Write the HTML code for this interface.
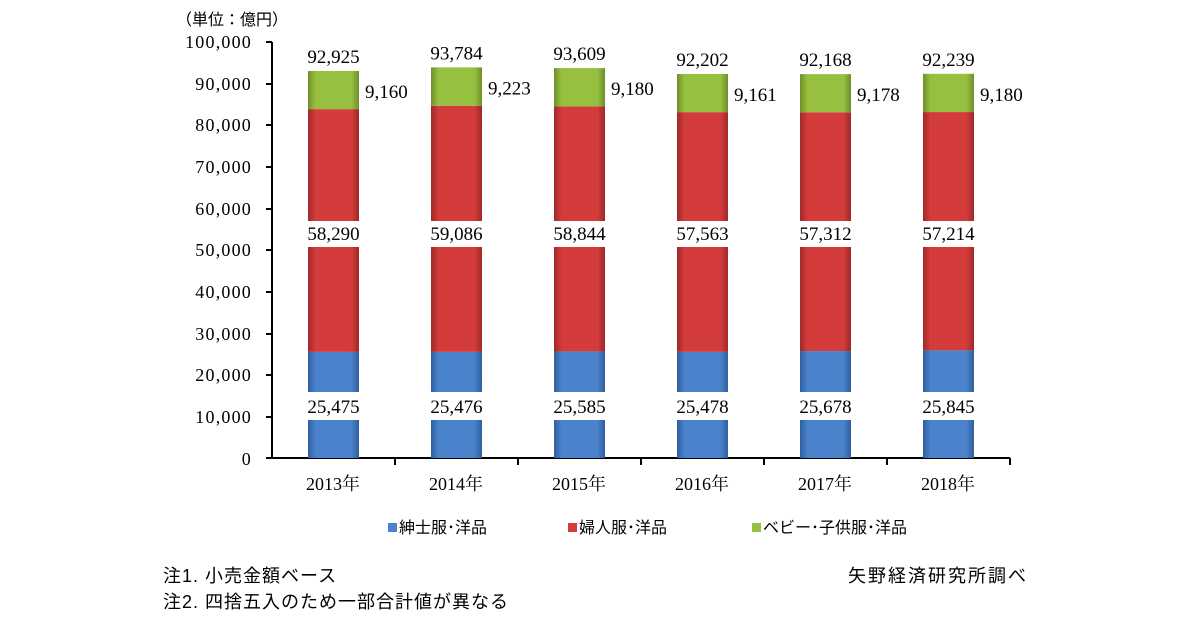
<!DOCTYPE html>
<html><head><meta charset="utf-8"><style>
body{margin:0;background:#fff;}
svg text{font-family:"Liberation Serif","Noto Serif CJK SC",serif;fill:#000}
.j{font-family:"Liberation Sans","Noto Sans CJK JP",sans-serif}
</style></head><body>
<svg width="1200" height="630" viewBox="0 0 1200 630">
<defs>
<linearGradient id="b" x1="0" x2="1"><stop offset="0" stop-color="#2f5f9e"/><stop offset=".15" stop-color="#4a82cc"/><stop offset=".85" stop-color="#4a82cc"/><stop offset="1" stop-color="#2f5f9e"/></linearGradient>
<linearGradient id="r" x1="0" x2="1"><stop offset="0" stop-color="#a02828"/><stop offset=".15" stop-color="#d43c3c"/><stop offset=".85" stop-color="#d43c3c"/><stop offset="1" stop-color="#a02828"/></linearGradient>
<linearGradient id="g" x1="0" x2="1"><stop offset="0" stop-color="#6f8f2a"/><stop offset=".15" stop-color="#98c040"/><stop offset=".85" stop-color="#98c040"/><stop offset="1" stop-color="#6f8f2a"/></linearGradient>
</defs>
<text x="176" y="25" font-size="16" class="j">（単位：億円）</text>
<g font-size="18" text-anchor="end" letter-spacing="1.2">
<text x="252" y="48">100,000</text><text x="252" y="90">90,000</text><text x="252" y="131">80,000</text><text x="252" y="173">70,000</text><text x="252" y="215">60,000</text><text x="252" y="256">50,000</text><text x="252" y="298">40,000</text><text x="252" y="340">30,000</text><text x="252" y="381">20,000</text><text x="252" y="423">10,000</text><text x="252" y="465">0</text>
</g>
<g stroke="#000" stroke-width="2">
<line x1="272" y1="42" x2="272" y2="459"/><line x1="271" y1="458" x2="1010" y2="458"/>
<path d="M266 42H272M266 84H272M266 125H272M266 167H272M266 209H272M266 250H272M266 292H272M266 334H272M266 375H272M266 417H272M266 458H272"/>
<path d="M395 458V465M518 458V465M641 458V465M764 458V465M887 458V465M1010 458V465"/>
</g>
<g id="bars"></g>
<g font-size="18" text-anchor="middle">
<text x="333" y="490">2013年</text><text x="456" y="490">2014年</text><text x="579" y="490">2015年</text><text x="702" y="490">2016年</text><text x="825" y="490">2017年</text><text x="948" y="490">2018年</text>
</g>
<rect x="388" y="523" width="9" height="9" fill="#4a82cc"/><text x="399" y="533" font-size="16" class="j">紳士服･洋品</text>
<rect x="568" y="523" width="9" height="9" fill="#d43c3c"/><text x="579" y="533" font-size="16" class="j">婦人服･洋品</text>
<rect x="752" y="523" width="9" height="9" fill="#98c040"/><text x="763" y="533" font-size="16" class="j">ベビー･子供服･洋品</text>
<text x="163" y="582" font-size="18" class="j" letter-spacing="1">注1. 小売金額ベース</text>
<text x="163" y="608" font-size="18" class="j" letter-spacing="1">注2. 四捨五入のため一部合計値が異なる</text>
<text x="848" y="582" font-size="18" class="j" letter-spacing="2">矢野経済研究所調べ</text>
</svg>
<script>
var d=[[25475,58290,9160,92925],[25476,59086,9223,93784],[25585,58844,9180,93609],[25478,57563,9161,92202],[25678,57312,9178,92168],[25845,57214,9180,92239]];
var g=document.getElementById('bars'),s='';
function y(v){return 458-v*0.004165;}
function f(n){return String(n).replace(/\B(?=(\d{3})+(?!\d))/g,',');}
d.forEach(function(r,i){var c=333.5+i*123,x=c-25.5,w=51;
var y1=y(r[0]),y2=y(r[0]+r[1]),y3=y(r[0]+r[1]+r[2]);
s+='<rect x="'+x+'" y="'+y1+'" width="'+w+'" height="'+(458-y1)+'" fill="url(#b)"/>';
s+='<rect x="'+x+'" y="'+y2+'" width="'+w+'" height="'+(y1-y2)+'" fill="url(#r)"/>';
s+='<rect x="'+x+'" y="'+y3+'" width="'+w+'" height="'+(y2-y3)+'" fill="url(#g)"/>';
s+='<rect x="'+(x-2)+'" y="392" width="'+(w+4)+'" height="28" fill="#fff"/>';
s+='<rect x="'+(x-2)+'" y="221" width="'+(w+4)+'" height="26" fill="#fff"/>';
s+='<text x="'+c+'" y="413" font-size="19" text-anchor="middle">'+f(r[0])+'</text>';
s+='<text x="'+c+'" y="240" font-size="19" text-anchor="middle">'+f(r[1])+'</text>';
s+='<text x="'+c+'" y="'+(y3-8)+'" font-size="19" text-anchor="middle">'+f(r[3])+'</text>';
s+='<text x="'+(x+w+6)+'" y="'+((y2+y3)/2+8)+'" font-size="19">'+f(r[2])+'</text>';
});
g.innerHTML=s;
</script>
</body></html>
